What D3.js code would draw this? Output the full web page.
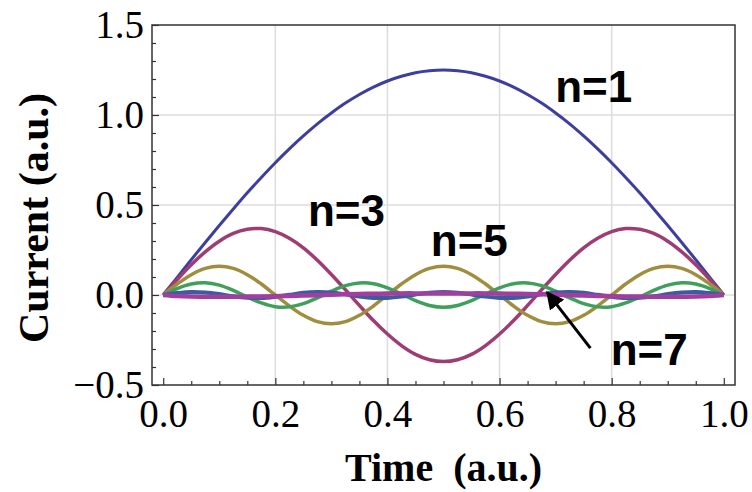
<!DOCTYPE html>
<html>
<head>
<meta charset="utf-8">
<script src="https://cdn.jsdelivr.net/npm/d3@7"></script>
<style>
  body { margin: 0; background: #fff; }
  svg { display: block; }
  .tick text { font-family: "Liberation Serif", "Times New Roman", serif; font-size: 39px; fill: #000; }
  .tick line { stroke: #333; stroke-width: 1.2; }
  .domain { display: none; }
</style>
</head>
<body>
<div id="chart"></div>
<script>
// time samples (a.u.)
var times = [0, 0.025, 0.05, 0.075, 0.1, 0.125, 0.15, 0.175, 0.2, 0.225, 0.25, 0.275, 0.3, 0.325, 0.35, 0.375, 0.4, 0.425, 0.45, 0.475, 0.5,
             0.525, 0.55, 0.575, 0.6, 0.625, 0.65, 0.675, 0.7, 0.725, 0.75, 0.775, 0.8, 0.825, 0.85, 0.875, 0.9, 0.925, 0.95, 0.975, 1];

// current for each harmonic
var n1 = [0, 0.098, 0.196, 0.292, 0.386, 0.478, 0.568, 0.653, 0.735, 0.812, 0.884, 0.951, 1.011, 1.066, 1.114, 1.155, 1.189, 1.215, 1.235, 1.246, 1.25,
          1.246, 1.235, 1.215, 1.189, 1.155, 1.114, 1.066, 1.011, 0.951, 0.884, 0.812, 0.735, 0.653, 0.568, 0.478, 0.386, 0.292, 0.196, 0.098, 0];
var n3 = [0, 0.086, 0.168, 0.240, 0.299, 0.342, 0.365, 0.369, 0.352, 0.315, 0.262, 0.193, 0.114, 0.029, -0.058, -0.142, -0.217, -0.281, -0.330, -0.360, -0.370,
          -0.360, -0.330, -0.281, -0.217, -0.142, -0.058, 0.029, 0.114, 0.193, 0.262, 0.315, 0.352, 0.369, 0.365, 0.342, 0.299, 0.240, 0.168, 0.086, 0];
var n5 = [0, 0.061, 0.113, 0.148, 0.160, 0.148, 0.113, 0.061, 0, -0.061, -0.113, -0.148, -0.160, -0.148, -0.113, -0.061, 0, 0.061, 0.113, 0.148, 0.160,
          0.148, 0.113, 0.061, 0, -0.061, -0.113, -0.148, -0.160, -0.148, -0.113, -0.061, 0, 0.061, 0.113, 0.148, 0.160, 0.148, 0.113, 0.061, 0];
var n7 = [0, 0.036, 0.061, 0.068, 0.055, 0.026, -0.011, -0.044, -0.065, -0.066, -0.048, -0.016, 0.021, 0.052, 0.067, 0.063, 0.040, 0.005, -0.031, -0.058, -0.068,
          -0.058, -0.031, 0.005, 0.040, 0.063, 0.067, 0.052, 0.021, -0.016, -0.048, -0.066, -0.065, -0.044, -0.011, 0.026, 0.055, 0.068, 0.061, 0.036, 0];
var n9 = [0, 0.011, 0.017, 0.014, 0.005, -0.007, -0.015, -0.017, -0.010, 0.001, 0.012, 0.017, 0.014, 0.004, -0.008, -0.016, -0.016, -0.009, 0.003, 0.013, 0.017,
          0.013, 0.003, -0.009, -0.016, -0.016, -0.008, 0.004, 0.014, 0.017, 0.012, 0.001, -0.010, -0.017, -0.015, -0.007, 0.005, 0.014, 0.017, 0.011, 0];
var n11 = [0, -0.006, -0.009, -0.010, -0.010, -0.010, -0.009, -0.008, -0.007, -0.005, -0.003, -0.001, 0.002, 0.004, 0.006, 0.007, 0.008, 0.009, 0.009, 0.009, 0.009,
           0.009, 0.009, 0.009, 0.008, 0.007, 0.006, 0.004, 0.002, -0.001, -0.003, -0.005, -0.007, -0.008, -0.009, -0.010, -0.010, -0.010, -0.009, -0.006, 0];

var xTicks = [0, 0.2, 0.4, 0.6, 0.8, 1.0];
var yTicks = [-0.5, 0, 0.5, 1.0, 1.5];
var xMinor = [0.05, 0.1, 0.15, 0.25, 0.3, 0.35, 0.45, 0.5, 0.55, 0.65, 0.7, 0.75, 0.85, 0.9, 0.95];
var yMinor = [-0.4, -0.3, -0.2, -0.1, 0.1, 0.2, 0.3, 0.4, 0.6, 0.7, 0.8, 0.9, 1.1, 1.2, 1.3, 1.4];
var xGrid = [0.2, 0.4, 0.6, 0.8];
var yGrid = [0, 0.5, 1.0];

var labels = [
  {text: "n=1", x: 0.768, y: 1.075},
  {text: "n=3", x: 0.327, y: 0.385},
  {text: "n=5", x: 0.546, y: 0.215},
  {text: "n=7", x: 0.867, y: -0.39}
];

const width = 752, height = 492;
const mLeft = 152, mRight = 735, mTop = 25, mBottom = 385;

var x = d3.scaleLinear().domain([-0.02, 1.02]).range([mLeft, mRight]);
var y = d3.scaleLinear().domain([-0.5, 1.5]).range([mBottom, mTop]);

var svg = d3.select("#chart").append("svg")
    .attr("width", width)
    .attr("height", height);

// grid
svg.append("g").selectAll("line")
    .data(xGrid).enter().append("line")
    .attr("x1", d => x(d)).attr("x2", d => x(d))
    .attr("y1", mTop).attr("y2", mBottom)
    .attr("stroke", "#dcdcdc").attr("stroke-width", 1.5);
svg.append("g").selectAll("line")
    .data(yGrid).enter().append("line")
    .attr("x1", mLeft).attr("x2", mRight)
    .attr("y1", d => y(d)).attr("y2", d => y(d))
    .attr("stroke", "#dcdcdc").attr("stroke-width", 1.5);

// curves
var series = [
  {vals: n1, color: "#3e3e9e", w: 3},
  {vals: n3, color: "#9e3d73", w: 3.5},
  {vals: n5, color: "#a08e3f", w: 3.5},
  {vals: n7, color: "#3fa05c", w: 3.5},
  {vals: n9, color: "#3d5c9e", w: 4},
  {vals: n11, color: "#a03fa0", w: 4.5}
];

var line = d3.line()
    .x(d => x(d[0]))
    .y(d => y(d[1]))
    .curve(d3.curveCatmullRom);

svg.append("g").selectAll("path")
    .data(series).enter().append("path")
    .attr("d", s => line(times.map((t, i) => [t, s.vals[i]])))
    .attr("fill", "none")
    .attr("stroke", s => s.color)
    .attr("stroke-width", s => s.w)
    .attr("stroke-linejoin", "round");

// frame
svg.append("rect")
    .attr("x", mLeft).attr("y", mTop)
    .attr("width", mRight - mLeft).attr("height", mBottom - mTop)
    .attr("fill", "none").attr("stroke", "#333").attr("stroke-width", 1.5);

// axes, ticks pointing inward
svg.append("g")
    .attr("transform", "translate(0," + mBottom + ")")
    .call(d3.axisBottom(x).tickValues(xTicks).tickSize(-7).tickPadding(14).tickFormat(d3.format(".1f")));
svg.append("g")
    .attr("transform", "translate(0," + mBottom + ")")
    .call(d3.axisBottom(x).tickValues(xMinor).tickSize(-4).tickFormat(""));
svg.append("g")
    .attr("transform", "translate(" + mLeft + ",0)")
    .call(d3.axisLeft(y).tickValues(yTicks).tickSize(-7).tickPadding(8)
      .tickFormat(d => d < 0 ? "\u2212" + d3.format(".1f")(-d) : d3.format(".1f")(d)));
svg.append("g")
    .attr("transform", "translate(" + mLeft + ",0)")
    .call(d3.axisLeft(y).tickValues(yMinor).tickSize(-4).tickFormat(""));

// axis titles
svg.append("text")
    .attr("x", (mLeft + mRight) / 2)
    .attr("y", 481)
    .attr("text-anchor", "middle")
    .style("font-family", "Liberation Serif, serif")
    .style("font-weight", "bold")
    .style("font-size", "40px")
    .style("white-space", "pre")
    .text("Time  (a.u.)");

svg.append("text")
    .attr("transform", "translate(48,218) rotate(-90)")
    .attr("text-anchor", "middle")
    .style("font-family", "Liberation Serif, serif")
    .style("font-weight", "bold")
    .style("font-size", "42px")
    .text("Current (a.u.)");

// harmonic labels
svg.append("g").selectAll("text")
    .data(labels).enter().append("text")
    .attr("x", d => x(d.x))
    .attr("y", d => y(d.y))
    .attr("text-anchor", "middle")
    .style("font-family", "Liberation Sans, Arial, sans-serif")
    .style("font-weight", "bold")
    .style("font-size", "44px")
    .text(d => d.text);

// arrow to n=7
svg.append("defs").append("marker")
    .attr("id", "head")
    .attr("viewBox", "0 0 10 10")
    .attr("refX", 9).attr("refY", 5)
    .attr("markerWidth", 6).attr("markerHeight", 6)
    .attr("orient", "auto")
    .append("path").attr("d", "M0,0L10,5L0,10z").attr("fill", "#000");

svg.append("line")
    .attr("x1", x(0.762)).attr("y1", y(-0.295))
    .attr("x2", x(0.685)).attr("y2", y(0.015))
    .attr("stroke", "#000").attr("stroke-width", 3)
    .attr("marker-end", "url(#head)");
</script>
</body>
</html>
